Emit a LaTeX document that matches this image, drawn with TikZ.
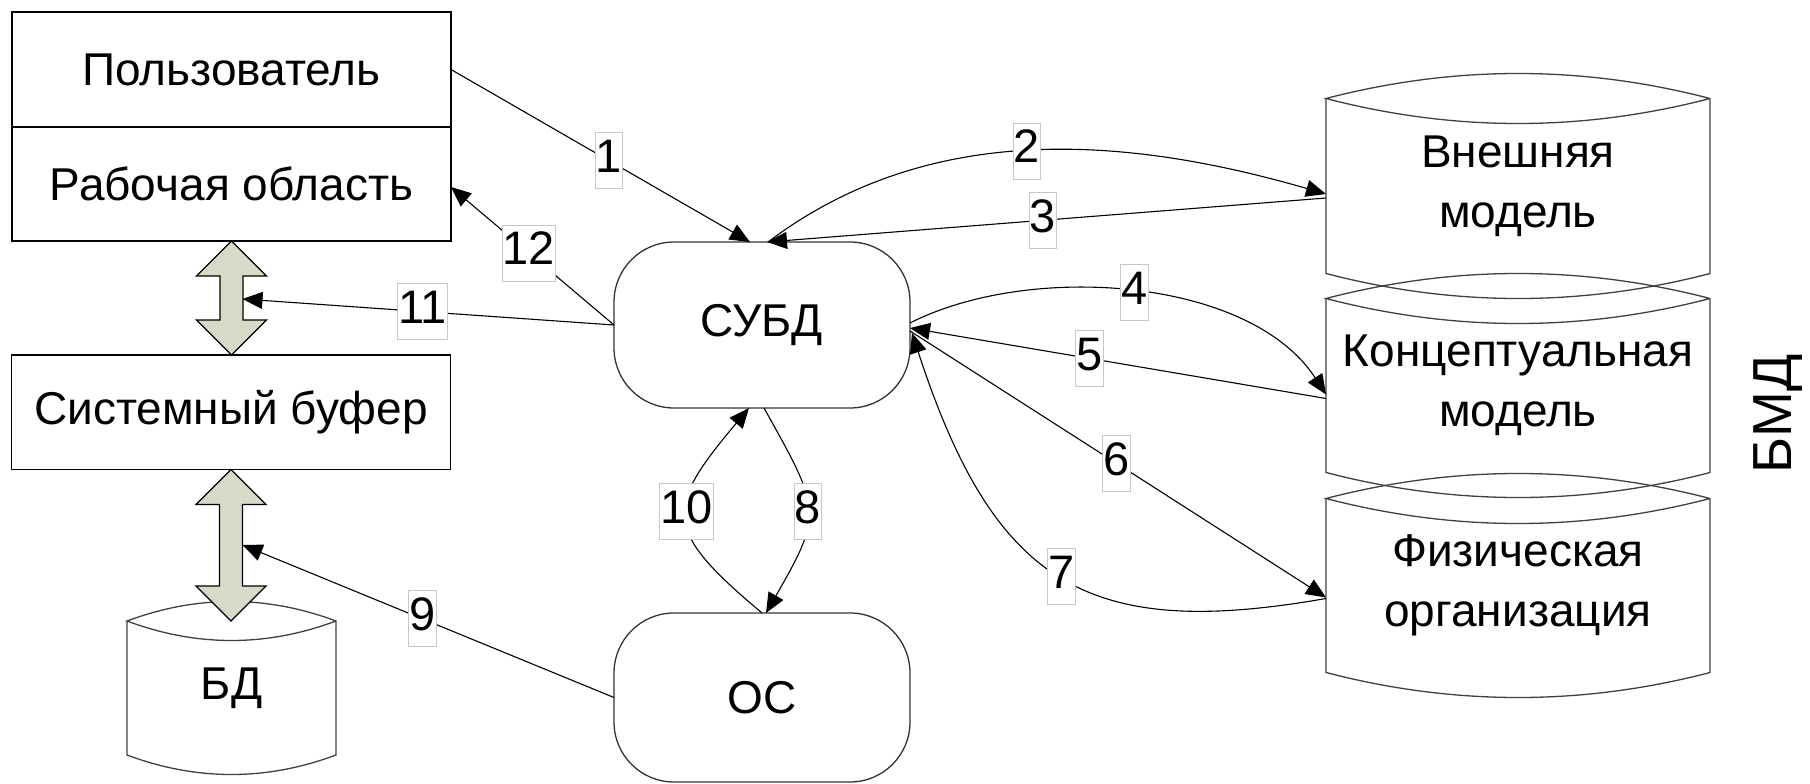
\documentclass[tikz,border=0pt]{standalone}
\usepackage{fontspec}
\setmainfont{Liberation Sans}
\usetikzlibrary{arrows.meta,calc}
\definecolor{arrfill}{RGB}{216,218,200}

% cylinder outline around a body node: #1 node, #2 width, #3 sagitta of the end arcs
\newcommand\drawcyl[3]{%
  \draw[cylline] (#1.north west) -- (#1.south west)
    .. controls ($(#1.south west)+(#2/3,4*#3/3)$) and ($(#1.south east)+(-#2/3,4*#3/3)$) .. (#1.south east)
    -- (#1.north east)
    .. controls ($(#1.north east)+(-#2/3,-4*#3/3)$) and ($(#1.north west)+(#2/3,-4*#3/3)$) .. (#1.north west)
    .. controls ($(#1.north west)+(#2/3,4*#3/3)$) and ($(#1.north east)+(-#2/3,4*#3/3)$) .. (#1.north east);}

% vertical two-headed block arrow from #1 (top tip) to #2 (bottom tip)
\newcommand\blockarrow[2]{%
  \draw[blockarr] let \p1=(#1), \p2=(#2) in
    (\x1,\y1) -- (\x1+35pt,\y1-35pt) -- (\x1+11.5pt,\y1-35pt) -- (\x1+11.5pt,\y2+35pt)
    -- (\x1+35pt,\y2+35pt) -- (\x1,\y2) -- (\x1-35pt,\y2+35pt) -- (\x1-11.5pt,\y2+35pt)
    -- (\x1-11.5pt,\y1-35pt) -- (\x1-35pt,\y1-35pt) -- cycle;}

\begin{document}
\begin{tikzpicture}[x=1pt,y=-1pt,
  every node/.style={inner sep=0pt, outer sep=0pt},
  txt/.style={font=\fontsize{46}{60}\selectfont, align=center},
  box/.style={txt, draw=black, line width=1.5pt, minimum width=439pt},
  proc/.style={txt, draw=black!80, line width=1.3pt, rounded corners=60pt,
    minimum width=296pt, minimum height=166pt},
  cylline/.style={draw=black!75, line width=1.3pt},
  blockarr/.style={draw=black, line width=1.2pt, fill=arrfill, line join=miter},
  conn/.style={draw=black, line width=1.1pt, -{Triangle[length=20pt,width=17pt]}},
  lbl/.style={fill=white, draw=black!22, line width=0.8pt, inner xsep=0.6pt, inner ysep=0pt,
    text height=40pt, text depth=16pt, font=\fontsize{47}{56}\selectfont}]

\useasboundingbox (0,0) rectangle (1810,784);

% left column
\node[box, minimum height=115pt] (pol) at (231.5,69.5) {Пользователь};
\node[box, minimum height=114pt] (rab) at (231.5,184) {Рабочая область};
\node[box, minimum height=114.5pt] (buf) at (231,412.25) {Системный буфер};
\node[txt, minimum width=209pt, minimum height=134pt] (bd) at (231.5,688) {БД};
\drawcyl{bd}{209}{19.5}

% processes
\node[proc] (subd) at (762,325) {СУБД};
\node[proc, minimum height=169pt] (oc) at (762,697.5) {ОС};

% database levels
\node[txt, minimum width=384pt, minimum height=175pt] (c1) at (1518,186) {Внешняя\\модель};
\node[txt, minimum width=384pt, minimum height=174pt] (c2) at (1518,385.5) {Концептуальная\\модель};
\node[txt, minimum width=384pt, minimum height=174pt] (c3) at (1518,585.5) {Физическая\\организация};
\drawcyl{c1}{384}{25}
\drawcyl{c2}{384}{25}
\drawcyl{c3}{384}{25}
\node[rotate=90, font=\fontsize{55}{60}\selectfont] (bmd) at (1778,414) {БМД};

% data exchange between user area, buffer and database
\blockarrow{rab.south}{buf.north}
\blockarrow{buf.south}{bd.north}
\coordinate (sh11) at (242.5,299);
\coordinate (sh9) at (242.5,545);

% numbered interactions
\draw[conn] (pol.east) -- node[lbl,pos=.527]{1} ($(subd.north)+(-12,0)$);
\draw[conn] ($(subd.north)+(6,0)$) .. controls +(164,-124) and +(-194,-56) .. ($(c1.west)+(0,8)$) node[lbl,pos=.484]{2};
\draw[conn] ($(c1.west)+(0,12)$) -- node[lbl,pos=.507]{3} ($(subd.north)+(5,0)$);
\draw[conn] ($(subd.east)+(0,-2)$) .. controls +(120,-61) and +(-76,-117) .. ($(c2.west)+(0,9)$) node[lbl,pos=.5]{4};
\draw[conn] ($(c2.west)+(0,13)$) -- node[lbl,pos=.569]{5} ($(subd.east)+(0,3)$);
\draw[conn] ($(subd.east)+(0,6)$) -- node[lbl,pos=.496]{6} ($(c3.west)+(0,12)$);
\draw[conn] ($(c3.west)+(0,13)$) .. controls +(-237,41.5) and +(83,254) .. ($(subd.east)+(2,8)$) node[lbl,pos=.5]{7};
\draw[conn] ($(subd.south)+(2,0)$) .. controls +(57,102) and +(57.5,-100) .. ($(oc.north)+(4,0)$) node[lbl,pos=.5]{8};
\draw[conn] (oc.west) -- node[lbl,pos=.516]{9} (sh9);
\draw[conn] (oc.north) .. controls +(-100.4,-84.2) and +(-84.5,100.8) .. ($(subd.south)+(-13,0)$) node[lbl,pos=.53]{10};
\draw[conn] (subd.west) -- node[lbl,pos=.515]{11} (sh11);
\draw[conn] (subd.west) -- node[lbl,pos=.522]{12} ($(rab.east)+(0,3)$);

\end{tikzpicture}
\end{document}
